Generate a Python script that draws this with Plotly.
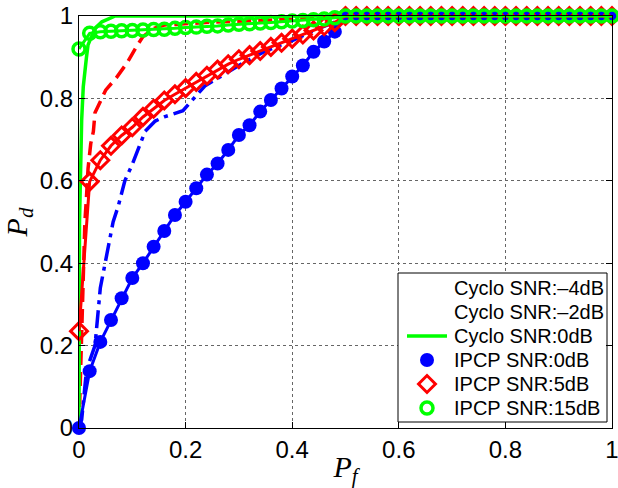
import plotly.graph_objects as go

# ---------------- data ----------------
# Cyclo SNR:-4dB (blue dash-dot)
cyc_m4_x = [0, 0.005, 0.014, 0.03, 0.04, 0.052, 0.064, 0.074, 0.086, 0.10, 0.124, 0.143, 0.16, 0.195,
            0.236, 0.30, 0.35, 0.40, 0.45, 0.50, 0.55, 1.0]
cyc_m4_y = [0, 0.02, 0.14, 0.20, 0.34, 0.42, 0.50, 0.54, 0.60, 0.64, 0.72, 0.745, 0.755, 0.77,
            0.83, 0.88, 0.915, 0.94, 0.97, 0.995, 1.0, 1.0]

# Cyclo SNR:-2dB (red dashed)
cyc_m2_x = [0, 0.002, 0.006, 0.011, 0.014, 0.017, 0.022, 0.027, 0.03, 0.05, 0.07, 0.09, 0.11, 0.12,
            0.14, 0.16, 0.25, 0.35, 0.46, 0.50, 1.0]
cyc_m2_y = [0, 0.085, 0.30, 0.50, 0.56, 0.63, 0.69, 0.72, 0.765, 0.82, 0.85, 0.886, 0.93, 0.95,
            0.97, 0.978, 0.985, 0.99, 0.995, 1.0, 1.0]

# Cyclo SNR:0dB (green solid)
cyc_0_x = [0, 0.001, 0.005, 0.008, 0.014, 0.017, 0.03, 0.043, 0.068, 1.0]
cyc_0_y = [0, 0.50, 0.748, 0.828, 0.90, 0.93, 0.97, 0.986, 1.0, 1.0]

# IPCP curves, sampled at Pf = 0, 0.02, ..., 1.0
ipcp_x = [round(0.02 * i, 2) for i in range(51)]
ipcp_0_y = [0, 0.138, 0.209, 0.262, 0.315, 0.364, 0.40, 0.44, 0.478, 0.517,
            0.549, 0.582, 0.615, 0.642, 0.675, 0.711, 0.735, 0.768, 0.796, 0.824,
            0.853, 0.88, 0.913, 0.938, 0.962] + [1.0] * 26
ipcp_5_y = [0.235, 0.598, 0.65, 0.685, 0.71, 0.73, 0.755, 0.775, 0.795, 0.81,
            0.825, 0.84, 0.855, 0.87, 0.883, 0.895, 0.905, 0.915, 0.925, 0.935,
            0.945, 0.955, 0.965, 0.975, 0.985] + [1.0] * 26
ipcp_15_y = [0.92, 0.958, 0.962, 0.963, 0.964, 0.965, 0.966, 0.967, 0.968, 0.97,
             0.972, 0.973, 0.975, 0.976, 0.978, 0.98, 0.981, 0.983, 0.984, 0.986,
             0.988, 0.989, 0.991, 0.993, 0.996] + [1.0] * 26

tick_vals = [0, 0.2, 0.4, 0.6, 0.8, 1.0]
tick_text = ["0", "0.2", "0.4", "0.6", "0.8", "1"]

names = ["Cyclo SNR:\u20134dB", "Cyclo SNR:\u20132dB", "Cyclo SNR:0dB",
         "IPCP SNR:0dB", "IPCP SNR:5dB", "IPCP SNR:15dB"]

# ---------------- styles / layout constants ----------------
BLUE = "#0000ff"
RED = "#ff0000"
GREEN = "#00ff00"
W, H = 618, 488
M_L, M_R, M_T, M_B = 79, 6, 16, 60
SANS = "Liberation Sans, Arial, Helvetica, sans-serif"
SERIF = "Liberation Serif, Times New Roman, serif"

# legend box in pixel units (overlay axes map 1 unit = 1 px)
LEG_L, LEG_R, LEG_T, LEG_B = 398, 607, 273, 422
LEG_ROW0, LEG_ROW_STEP = 288, 24
LEG_SAMPLE_L, LEG_SAMPLE_R, LEG_TEXT_X = 407, 447, 452
LEG_FONT = 20

blue_dot = dict(symbol="circle", size=14, color=BLUE, line=dict(color=BLUE, width=0))
red_dia = dict(symbol="diamond-open", size=13, color=RED, line=dict(color=RED, width=3))
green_circ = dict(symbol="circle-open", size=12, color=GREEN, line=dict(color=GREEN, width=3.5))

fig = go.Figure()

fig.add_trace(go.Scatter(x=cyc_m4_x, y=cyc_m4_y, mode="lines",
                         line=dict(color=BLUE, width=3.5, dash="18px,6px,4px,6px")))
fig.add_trace(go.Scatter(x=cyc_m2_x, y=cyc_m2_y, mode="lines",
                         line=dict(color=RED, width=3.5, dash="14px,7px")))
fig.add_trace(go.Scatter(x=cyc_0_x, y=cyc_0_y, mode="lines",
                         line=dict(color=GREEN, width=3.5), cliponaxis=False))
fig.add_trace(go.Scatter(x=ipcp_x, y=ipcp_0_y, mode="lines+markers",
                         line=dict(color=BLUE, width=3), marker=blue_dot, cliponaxis=False))
fig.add_trace(go.Scatter(x=ipcp_x, y=ipcp_5_y, mode="lines+markers",
                         line=dict(color=RED, width=3), marker=red_dia, cliponaxis=False))
fig.add_trace(go.Scatter(x=ipcp_x, y=ipcp_15_y, mode="lines+markers",
                         line=dict(color=GREEN, width=3), marker=green_circ, cliponaxis=False))

# ---------------- manual legend (on pixel overlay axes) ----------------
fig.add_trace(go.Scatter(x=[LEG_L, LEG_R, LEG_R, LEG_L, LEG_L],
                         y=[LEG_T, LEG_T, LEG_B, LEG_B, LEG_T],
                         mode="lines", fill="toself", fillcolor="white",
                         line=dict(color="black", width=1),
                         xaxis="x2", yaxis="y2", cliponaxis=False, hoverinfo="skip"))
rows = [LEG_ROW0 + LEG_ROW_STEP * i for i in range(6)]
fig.add_trace(go.Scatter(x=[LEG_SAMPLE_L, LEG_SAMPLE_R], y=[rows[2], rows[2]], mode="lines",
                         line=dict(color=GREEN, width=3.5), xaxis="x2", yaxis="y2",
                         cliponaxis=False, hoverinfo="skip"))
mid = (LEG_SAMPLE_L + LEG_SAMPLE_R) / 2
for r, mk in zip(rows[3:], [blue_dot, red_dia, green_circ]):
    fig.add_trace(go.Scatter(x=[mid], y=[r], mode="markers", marker=mk,
                             xaxis="x2", yaxis="y2", cliponaxis=False, hoverinfo="skip"))

annotations = []
for r, name in zip(rows, names):
    annotations.append(dict(x=LEG_TEXT_X, y=r, xref="x2", yref="y2", text=name,
                            showarrow=False, xanchor="left", yanchor="middle",
                            font=dict(family=SANS, size=LEG_FONT, color="black")))

axis_common = dict(
    range=[0, 1], tickmode="array", tickvals=tick_vals, ticktext=tick_text,
    showline=True, linecolor="black", linewidth=1, mirror="ticks",
    ticks="inside", ticklen=6, tickcolor="black", tickwidth=1,
    showgrid=True, gridcolor="#666666", griddash="dot", gridwidth=1,
    zeroline=False, ticklabeloverflow="allow",
    tickfont=dict(family=SANS, size=24, color="black"),
)

fig.update_layout(
    width=W, height=H,
    margin=dict(l=M_L, r=M_R, t=M_T, b=M_B, autoexpand=False),
    paper_bgcolor="white", plot_bgcolor="white",
    showlegend=False,
    xaxis=dict(**axis_common,
               title=dict(text="<i>P</i><sub><i>f</i></sub>", standoff=2,
                          font=dict(family=SERIF, size=30, color="black"))),
    yaxis=dict(**axis_common,
               title=dict(text="<i>P</i><sub><i>d</i></sub>", standoff=10,
                          font=dict(family=SERIF, size=30, color="black"))),
    xaxis2=dict(overlaying="x", anchor="y2", range=[M_L, W - M_R], visible=False, fixedrange=True),
    yaxis2=dict(overlaying="y", anchor="x2", range=[H - M_B, M_T], visible=False, fixedrange=True),
    annotations=annotations,
)

fig.write_html("out.html")
